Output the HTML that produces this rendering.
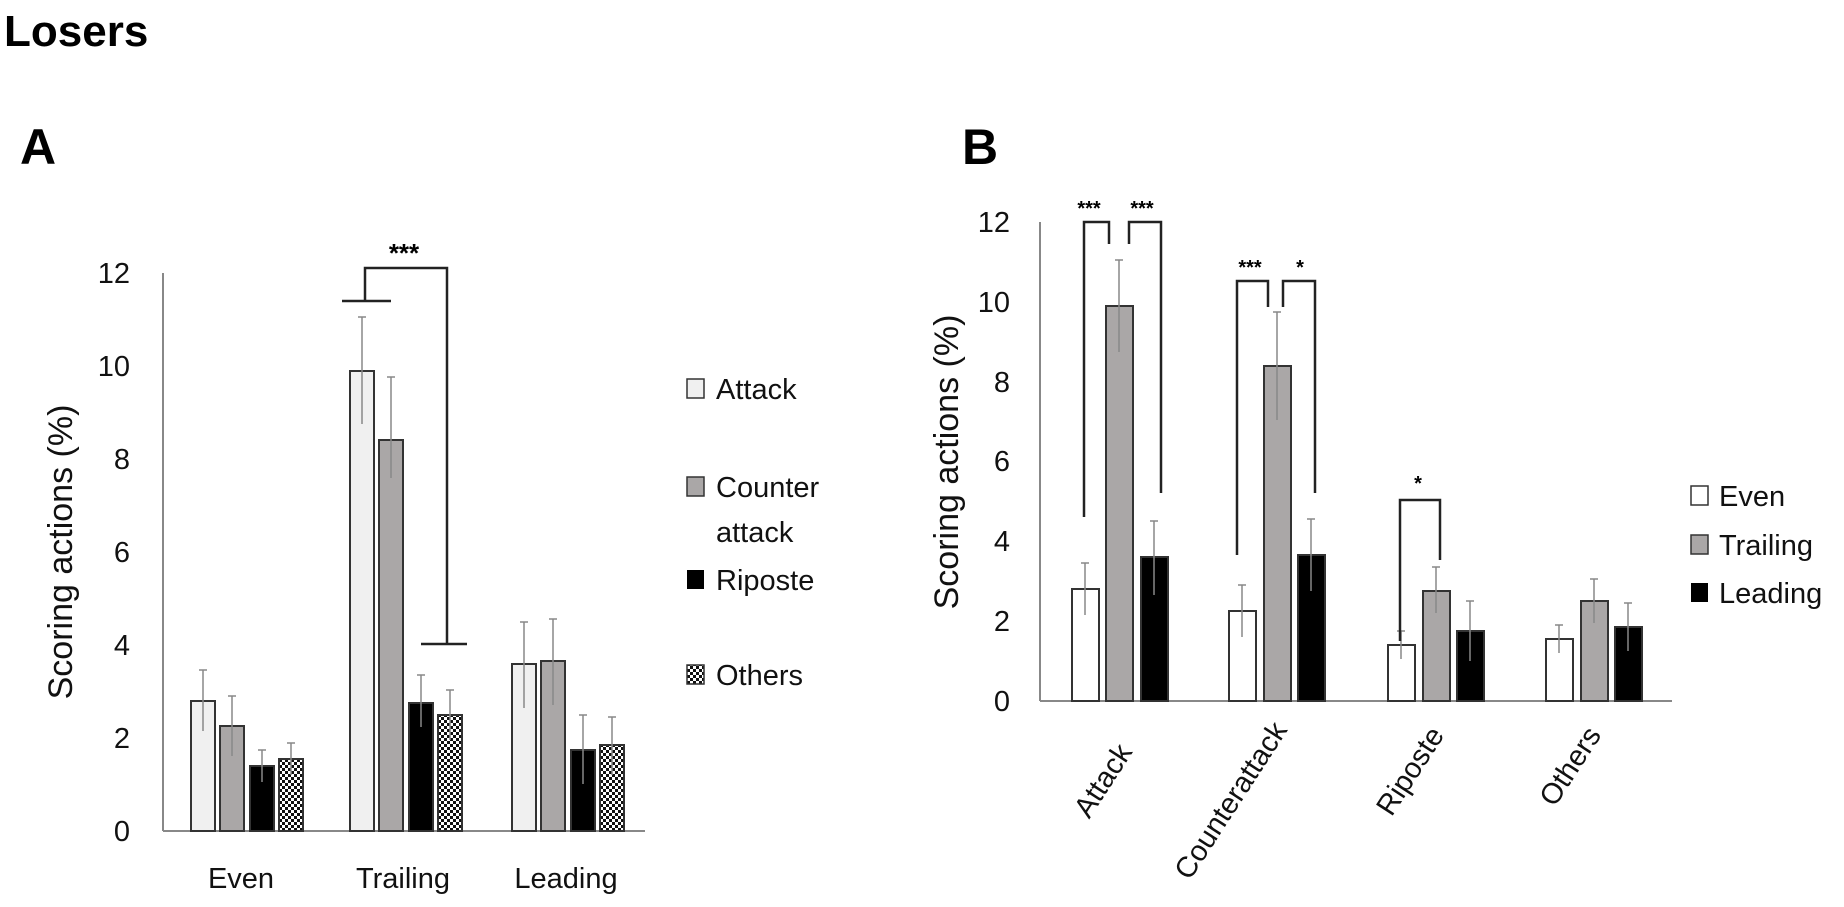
<!DOCTYPE html>
<html><head><style>
html,body{margin:0;padding:0;background:#fff;}
svg{display:block;}
text{font-family:"Liberation Sans",sans-serif;}
</style></head><body>
<svg width="1844" height="907" viewBox="0 0 1844 907" xmlns="http://www.w3.org/2000/svg">
<defs>
<pattern id="chk" width="6" height="6" patternUnits="userSpaceOnUse">
<rect width="6" height="6" fill="#fff"/><rect width="3" height="3" fill="#111"/><rect x="3" y="3" width="3" height="3" fill="#111"/>
</pattern>
</defs>
<text x="4" y="46" font-size="44" font-weight="bold">Losers</text>
<text x="20" y="164" font-size="50" font-weight="bold">A</text>
<text x="962" y="164" font-size="50" font-weight="bold">B</text>

<!-- Panel A -->
<g font-size="29" fill="#111">
<line x1="163" y1="273" x2="163" y2="831" stroke="#888" stroke-width="2"/>
<line x1="163" y1="831" x2="645" y2="831" stroke="#888" stroke-width="2"/>
<g text-anchor="end">
<text x="130" y="841">0</text><text x="130" y="748">2</text><text x="130" y="655">4</text>
<text x="130" y="562">6</text><text x="130" y="469">8</text><text x="130" y="376">10</text><text x="130" y="283">12</text>
</g>
<text transform="translate(72,552) rotate(-90)" text-anchor="middle" font-size="34">Scoring actions (%)</text>
<g text-anchor="middle">
<text x="241" y="888">Even</text><text x="403" y="888">Trailing</text><text x="566" y="888">Leading</text>
</g>
</g>
<g stroke="#333" stroke-width="2">
<!-- Even -->
<rect x="191" y="701" width="24" height="130" fill="#f0f0f0"/>
<rect x="220" y="726" width="24" height="105" fill="#aaa7a7"/>
<rect x="250" y="766" width="24" height="65" fill="#000"/>
<rect x="279" y="759" width="24" height="72" fill="url(#chk)"/>
<!-- Trailing -->
<rect x="350" y="371" width="24" height="460" fill="#f0f0f0"/>
<rect x="379" y="440" width="24" height="391" fill="#aaa7a7"/>
<rect x="409" y="703" width="24" height="128" fill="#000"/>
<rect x="438" y="715" width="24" height="116" fill="url(#chk)"/>
<!-- Leading -->
<rect x="512" y="664" width="24" height="167" fill="#f0f0f0"/>
<rect x="541" y="661" width="24" height="170" fill="#aaa7a7"/>
<rect x="571" y="750" width="24" height="81" fill="#000"/>
<rect x="600" y="745" width="24" height="86" fill="url(#chk)"/>
</g>
<g stroke="#888" stroke-width="1.5">
<path d="M203 731V670M199 670h8M232 756V696M228 696h8M262 782V750M258 750h8M291 775V743M287 743h8"/>
<path d="M362 424V317M358 317h8M391 478V377M387 377h8M421 675V727M417 675h8M450 690V740M446 690h8"/>
<path d="M524 708V622M520 622h8M553 705V619M549 619h8M583 784V715M579 715h8M612 775V717M608 717h8"/>
</g>
<g stroke="#222" stroke-width="2.5" fill="none">
<path d="M342 301H391M365 301V268H447V644M421 644H467"/>
</g>
<text x="404" y="262" font-size="26" text-anchor="middle" font-weight="bold">***</text>
<!-- Legend A -->
<g font-size="29" fill="#111">
<rect x="687" y="379" width="17" height="19" fill="#f0f0f0" stroke="#333" stroke-width="1.5"/><text x="716" y="399">Attack</text>
<rect x="687" y="477" width="17" height="19" fill="#aaa7a7" stroke="#333" stroke-width="1.5"/><text x="716" y="497">Counter</text>
<text x="716" y="542">attack</text>
<rect x="687" y="570" width="17" height="19" fill="#000"/><text x="716" y="590">Riposte</text>
<rect x="687" y="665" width="17" height="19" fill="url(#chk)" stroke="#333" stroke-width="1.5"/><text x="716" y="685">Others</text>
</g>

<!-- Panel B -->
<g font-size="29" fill="#111">
<line x1="1040" y1="222" x2="1040" y2="701" stroke="#888" stroke-width="2"/>
<line x1="1040" y1="701" x2="1672" y2="701" stroke="#888" stroke-width="2"/>
<g text-anchor="end">
<text x="1010" y="711">0</text><text x="1010" y="631">2</text><text x="1010" y="551">4</text>
<text x="1010" y="471">6</text><text x="1010" y="392">8</text><text x="1010" y="312">10</text><text x="1010" y="232">12</text>
</g>
<text transform="translate(958,462) rotate(-90)" text-anchor="middle" font-size="34">Scoring actions (%)</text>
<g text-anchor="end">
<text transform="translate(1133,752) rotate(-57)">Attack</text>
<text transform="translate(1288,730) rotate(-57)">Counterattack</text>
<text transform="translate(1445,735) rotate(-57)">Riposte</text>
<text transform="translate(1602,735) rotate(-57)">Others</text>
</g>
</g>
<g stroke="#333" stroke-width="2">
<rect x="1072" y="589" width="27" height="112" fill="#fff"/>
<rect x="1106" y="306" width="27" height="395" fill="#aaa7a7"/>
<rect x="1141" y="557" width="27" height="144" fill="#000"/>
<rect x="1229" y="611" width="27" height="90" fill="#fff"/>
<rect x="1264" y="366" width="27" height="335" fill="#aaa7a7"/>
<rect x="1298" y="555" width="27" height="146" fill="#000"/>
<rect x="1388" y="645" width="27" height="56" fill="#fff"/>
<rect x="1423" y="591" width="27" height="110" fill="#aaa7a7"/>
<rect x="1457" y="631" width="27" height="70" fill="#000"/>
<rect x="1546" y="639" width="27" height="62" fill="#fff"/>
<rect x="1581" y="601" width="27" height="100" fill="#aaa7a7"/>
<rect x="1615" y="627" width="27" height="74" fill="#000"/>
</g>
<g stroke="#888" stroke-width="1.5">
<path d="M1085 615V563M1081 563h8M1119 352V260M1115 260h8M1154 595V521M1150 521h8"/>
<path d="M1242 637V585M1238 585h8M1277 420V312M1273 312h8M1311 591V519M1307 519h8"/>
<path d="M1401 659V631M1397 631h8M1436 613V567M1432 567h8M1470 661V601M1466 601h8"/>
<path d="M1559 653V625M1555 625h8M1594 623V579M1590 579h8M1628 651V603M1624 603h8"/>
</g>
<g stroke="#222" stroke-width="2.5" fill="none">
<path d="M1084 517V222H1109V244M1129 244V222H1161V493"/>
<path d="M1237 555V281H1268V307M1283 307V281H1315V493"/>
<path d="M1400 641V500H1440V560"/>
</g>
<g font-size="20" font-weight="bold" text-anchor="middle">
<text x="1089" y="215">***</text><text x="1142" y="215">***</text>
<text x="1250" y="274">***</text><text x="1300" y="274">*</text>
<text x="1418" y="490">*</text>
</g>
<g font-size="29" fill="#111">
<rect x="1691" y="486" width="17" height="19" fill="#fff" stroke="#333" stroke-width="1.5"/><text x="1719" y="506">Even</text>
<rect x="1691" y="535" width="17" height="19" fill="#aaa7a7" stroke="#333" stroke-width="1.5"/><text x="1719" y="555">Trailing</text>
<rect x="1691" y="583" width="17" height="19" fill="#000"/><text x="1719" y="603">Leading</text>
</g>
</svg>
</body></html>
